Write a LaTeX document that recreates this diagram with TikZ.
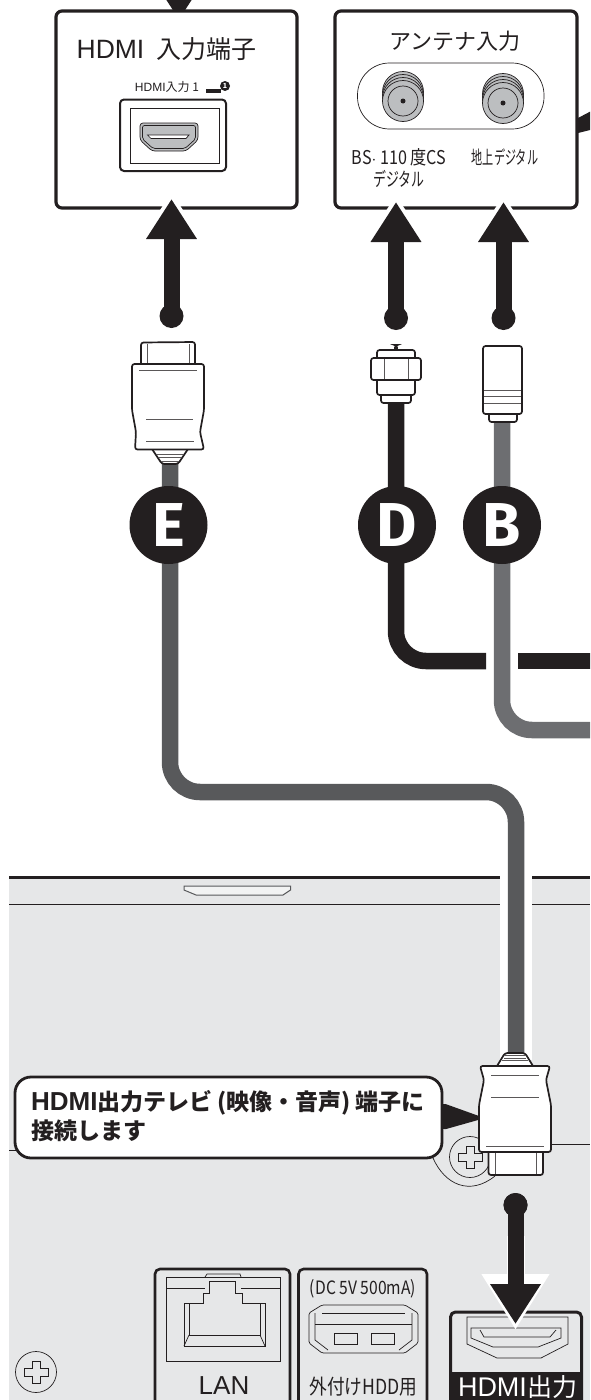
\documentclass[tikz,border=0pt]{standalone}
\usepackage{fontspec}
\usepackage{tikz}
\usetikzlibrary{arrows.meta}
\setmainfont{Noto Sans CJK JP}
\newfontfamily\slimjp[FakeStretch=0.6]{Noto Sans CJK JP}
\newfontfamily\narrowjp[FakeStretch=0.68]{Noto Sans CJK JP}
\newfontfamily\midjp[FakeStretch=0.85]{Noto Sans CJK JP}
\newfontfamily\letterfont{Fira Sans}
\newfontfamily\latinf{Liberation Sans}
\newcommand{\fz}[1]{\fontsize{#1}{#1}\selectfont}
\definecolor{ink}{HTML}{231F20}
\definecolor{cblE}{HTML}{58595B}
\definecolor{cblB}{HTML}{6D6E71}
\definecolor{pnl}{HTML}{E6E7E8}
\definecolor{jack}{HTML}{BCBEC0}
\tikzset{
  box/.style    = {draw=ink, fill=white, line width=3.2pt, rounded corners=6pt, inner sep=0pt},
  thin/.style   = {draw=ink, line width=0.7pt},
  plug/.style   = {draw=ink, fill=white, line width=1.7pt, rounded corners=2.5pt},
  plugln/.style = {draw=ink!75, line width=0.8pt},
  cbl/.style    = {line width=16.5pt, rounded corners=30pt},
  fat/.style    = {draw=ink, line width=16pt, -{Triangle[length=40pt,width=48pt]}},
  halo/.style   = {draw=white, line width=16pt, -{Triangle[length=52pt,width=64pt]}},
  dot/.style    = {circle, fill=ink, minimum size=24pt, inner sep=0pt},
  badge/.style  = {circle, fill=ink, minimum size=78pt, inner sep=0pt, text=white,
                   font=\letterfont\bfseries\fz{62}},
  port/.style   = {draw=ink, fill=pnl, line width=2.6pt, rounded corners=5pt},
  lbl/.style    = {inner sep=0pt, text=ink},
  nlbl/.style   = {inner sep=0pt, text=ink, font=\narrowjp\fz{19}},
  mlbl/.style   = {inner sep=0pt, text=ink, font=\midjp\fz{19}},
}

\begin{document}
\begin{tikzpicture}[x=1pt, y=-1pt]
  \clip (0,0) rectangle (590,1400);
  \useasboundingbox (0,0) rectangle (590,1400);

  % ---- rear panel ----
  \fill[pnl] (9,877) rectangle (590,1410);
  \draw[ink, line width=2.6pt] (9,877.5) -- (590,877.5);
  \draw[ink, line width=0.8pt] (9,904) -- (590,904);
  \draw[cblE, line width=1pt, fill=pnl!50!white] (184,886) -- (290.5,886) -- (290.5,890) -- (283,895)
    -- (196,895) -- (184,890) -- cycle;
  \draw[thin] (9,1150) -- (20,1150);
  \draw[thin] (545,1144) -- (590,1144);
  \draw[thin] (433,1158) .. controls (445,1185) and (470,1196) .. (495,1176);
  \foreach \sx/\sy in {36/1372, 470/1157} {
    \begin{scope}[shift={(\sx,\sy)}]
      \draw[thin] (0,0) circle (20.5);
      \draw[thin] (-4,-11) -- (4,-11) -- (4,-4) -- (12,-4) -- (12,4) -- (4,4) -- (4,11)
        -- (-4,11) -- (-4,4) -- (-12,4) -- (-12,-4) -- (-4,-4) -- cycle;
    \end{scope}
  }

  % ---- cables ----
  \coordinate (eplug) at (170,460);
  \coordinate (dplug) at (396,400);
  \coordinate (bplug) at (502,420);
  \coordinate (tvplug) at (516,1060);
  \draw[white, line width=32pt] (516,870) -- (tvplug);
  \draw[cbl, cblE] (eplug) -- (170,792) -- (516,792) -- (tvplug);
  \draw[cbl, ink] (dplug) -- (396,661) -- (486,661);
  \draw[cbl, ink] (518,661) -- (600,661);
  \draw[cbl, cblB] (bplug) -- (502,730) -- (600,730);

  % ---- arrow into the first box, from above ----
  \coordinate (intop) at (179,-40);
  \coordinate (intip) at (179,20);
  \draw[fat] (intop) -- (intip);

  % ---- hdmi input ----
  \node[box, minimum width=241pt, minimum height=197pt] (hdmibox) at (176.5,109.5) {};
  \node[lbl, font=\fz{25}] (hdmittl) at (166.5,49) {{\latinf\fz{26.5}HDMI}\hspace{12pt}入力端子};
  \node[lbl, font=\fz{12}] (hdmilbl) at (167,87) {{\latinf HDMI}入力 1};
  \fill[ink] (206,89) rectangle (221,93);
  \node[circle, fill=ink, minimum size=10pt, inner sep=0pt, text=white, font=\bfseries\fz{7}] (keyno) at (225,86) {1};
  \draw[draw=ink, line width=2pt, rounded corners=4pt] (120,99.5) rectangle (226,171);
  \draw[thin] (130,108) rectangle (219,163);
  \draw[thin, fill=jack, rounded corners=3pt] (140,123) -- (198,123) -- (198,140) -- (186,151)
    -- (152,151) -- (140,140) -- cycle;
  \draw[thin, rounded corners=2pt] (142.5,125.5) -- (195.5,125.5) -- (195.5,139) -- (185,148.5)
    -- (153,148.5) -- (142.5,139) -- cycle;
  \draw[thin, fill=white] (147.5,135) -- (189,135) -- (186,138.5) -- (151,138.5) -- cycle;

  % ---- antenna input ----
  \node[box, minimum width=242pt, minimum height=197pt] (antbox) at (456,109.5) {};
  \node[lbl, font=\fz{22}] (antttl) at (455,41) {アンテナ入力};
  \draw[thin, rounded corners=32pt] (357.5,63) rectangle (544,129);
  \foreach \ax/\ay in {403/101, 503/103} {
    \foreach \off in {9,6,3,0} {
      \draw[thin, fill=jack] (\ax,\ay-\off) circle (20.5);
    }
    \draw[thin] (\ax,\ay) circle (15);
    \fill[ink] (\ax,\ay) circle (2.5);
  }
  \node[mlbl] (bslbl) at (399,157) {BS$\cdot$ 110 度CS};
  \node[nlbl] (bslbl2) at (399,179) {デジタル};
  \node[nlbl, font=\slimjp\fz{18.5}] (uhflbl) at (505,157) {地上デジタル};
  \fill[ink] (578,118) -- (590,111.7) -- (590,130) -- (578,133) -- cycle;

  % ---- arrows to the input boxes ----
  \coordinate (etip) at (171.5,199);
  \coordinate (dtip) at (396,202);
  \coordinate (btip) at (503.5,202);
  \node[dot] (edot) at (171.5,316) {};
  \node[dot] (ddot) at (396,318) {};
  \node[dot] (bdot) at (503.5,318) {};
  \foreach \n in {e,d,b} {
    \draw[halo] (\n dot.center) -- ([yshift=7pt]\n tip);
    \draw[fat] (\n dot.center) -- (\n tip);
  }

  % ---- plugs ----
  \draw[plug, fill=white] (141,364) -- (141,342.5) -- (195,342) -- (195,364);
  \draw[plugln] (147,344) -- (147,363);
  \draw[plugln] (189,344) -- (189,363);
  \draw[plug] (152,449) -- (162,464) -- (178,464) -- (188,449);
  \foreach \hy/\hw in {454/13, 457.5/11, 461/9} { \draw[plugln] (170-\hw,\hy) -- (170+\hw,\hy); }
  \draw[plug] (132,364) -- (204,364) -- (204,410) -- (200,432) -- (204,449.5) -- (135,449.5)
    -- (136,432) -- (132,410) -- cycle;
  \draw[plugln] (139,370) -- (197,370);
  \draw[plugln] (146,419) -- (193,419);
  \draw[plugln] (146,441) -- (194,441);

  \draw[plug] (395,345) -- (397,345) -- (397,352) -- (395,352) -- cycle;
  \draw[plug] (381,392) rectangle (411,403);
  \draw[plug] (377,350) rectangle (415,395);
  \draw[plug] (371,358) rectangle (421,380);
  \draw[plugln] (384,359) -- (384,379);
  \draw[plugln] (408,359) -- (408,379);

  \draw[plug] (489,410) rectangle (517,422);
  \draw[plug] (483,346) rectangle (522,414);
  \draw[plugln] (484,390) -- (521,390);
  \draw[plugln] (484,396) -- (521,396);
  \draw[plugln] (484,403) -- (521,403);

  % ---- cable letters ----
  \node[badge] (e) at (168.5,525) {E};
  \node[badge] (d) at (397,525) {D};
  \node[badge] (b) at (502,525) {B};

  % ---- plug on the panel ----
  \draw[plug] (488.5,1148) -- (488.5,1175) -- (543,1175) -- (543,1148);
  \draw[plugln] (495,1152) -- (495,1174);
  \draw[plugln] (536,1152) -- (536,1174);
  \draw[plug] (497,1066) -- (505,1053) -- (525,1053) -- (533,1066);
  \foreach \hy/\hw in {1055.5/10, 1058/11, 1060.5/13} { \draw[plugln] (515-\hw,\hy) -- (515+\hw,\hy); }
  \draw[plug, fill=ink] (443,1104) -- (482,1118) -- (443,1129) -- cycle;
  \draw[plug] (480,1066) -- (550,1066) -- (546,1080) -- (551,1105) -- (551,1152) -- (479,1152)
    -- (479,1105) -- (484,1080) -- cycle;
  \draw[plugln] (491,1075) -- (539,1075);
  \draw[plugln] (491,1097) -- (539,1097);
  \draw[plugln] (486,1146) -- (544,1146);

  % ---- callout ----
  \node[box, line width=2.8pt, rounded corners=16pt, minimum width=427pt, minimum height=81pt] (note) at (228.5,1117.5) {};
  \node[lbl, anchor=west, font=\bfseries\fz{23}] (note1) at (31,1103) {{\latinf\bfseries\fz{26}HDMI}出力テレビ\hspace{5pt}(映像・音声)\hspace{4pt}端子に};
  \node[lbl, anchor=west, font=\bfseries\fz{23}] (note2) at (31,1131) {接続します};

  % ---- lan port ----
  \draw[port] (155,1420) -- (155,1269) -- (290,1269) -- (290,1420);
  \draw[thin] (166,1277) rectangle (280,1361);
  \draw[thin] (166,1288) -- (205,1288);
  \draw[thin] (241,1288) -- (280,1288);
  \draw[thin] (205,1277) -- (207,1274) -- (240,1274) -- (241,1277);
  \draw[thin] (184,1303) -- (203,1303) -- (203,1293) -- (209,1293) -- (209,1281) -- (235,1281)
    -- (235,1293) -- (242,1293) -- (242,1303) -- (265,1303) -- (265,1346) -- (184,1346) -- cycle;
  \draw[thin] (189,1303) -- (189,1335) -- (260,1335) -- (260,1303);
  \draw[thin] (184,1346) -- (189,1335);
  \draw[thin] (265,1346) -- (260,1335);
  \node[lbl, font=\latinf\fz{26}] (lanlbl) at (224,1386) {LAN};

  % ---- external hdd port ----
  \draw[port] (298.5,1420) -- (298.5,1269) -- (427,1269) -- (427,1420);
  \node[mlbl, font=\midjp\fz{18.4}] (dclbl) at (363,1289) {(DC 5V 500mA)};
  \draw[thin, rounded corners=1.5pt] (322,1305) -- (405,1305) -- (418,1313) -- (418,1343) -- (405,1353)
    -- (322,1353) -- (309,1343) -- (309,1313) -- cycle;
  \draw[thin] (322,1313) -- (405,1313);
  \draw[thin] (315,1324) -- (412,1324);
  \draw[thin] (315,1313) -- (315,1340) -- (328,1350);
  \draw[thin] (412,1313) -- (412,1340) -- (399,1350);
  \draw[thin] (334,1333) rectangle (357,1344);
  \draw[thin] (371,1333) rectangle (394,1344);
  \node[mlbl, font=\midjp\fz{20.8}] (hddlbl) at (363.5,1387) {外付けHDD用};

  % ---- hdmi output ----
  \draw[port, draw=ink, line width=3pt] (450.5,1420) -- (450.5,1312) -- (581.5,1312) -- (581.5,1420);
  \fill[ink] (450,1372) rectangle (582,1410);
  \draw[thin] (467,1317) -- (568,1317) -- (568,1344) -- (541,1358) -- (497,1358) -- (467,1344) -- cycle;
  \draw[thin] (471,1328) -- (561,1328) -- (561,1338) -- (538,1347) -- (493,1347) -- (471,1338) -- cycle;
  \draw[thin] (480,1330) -- (484,1337) -- (550,1337) -- (556,1330);
  \node[lbl, text=white, font=\fz{25}] (outlbl) at (517.5,1387) {{\latinf\fz{27}HDMI}出力};
  \node[dot] (outdot) at (515.5,1205) {};
  \coordinate (outtip) at (515.5,1324);
  \draw[white, line width=18pt] (515.5,1236) -- (515.5,1290);
  \draw[halo, -{Triangle[length=56pt,width=64pt]}] (outdot.center) -- ([yshift=-6pt]outtip);
  \draw[fat] (outdot.center) -- (outtip);
  \node[dot] at (outdot) {};
\end{tikzpicture}
\end{document}
